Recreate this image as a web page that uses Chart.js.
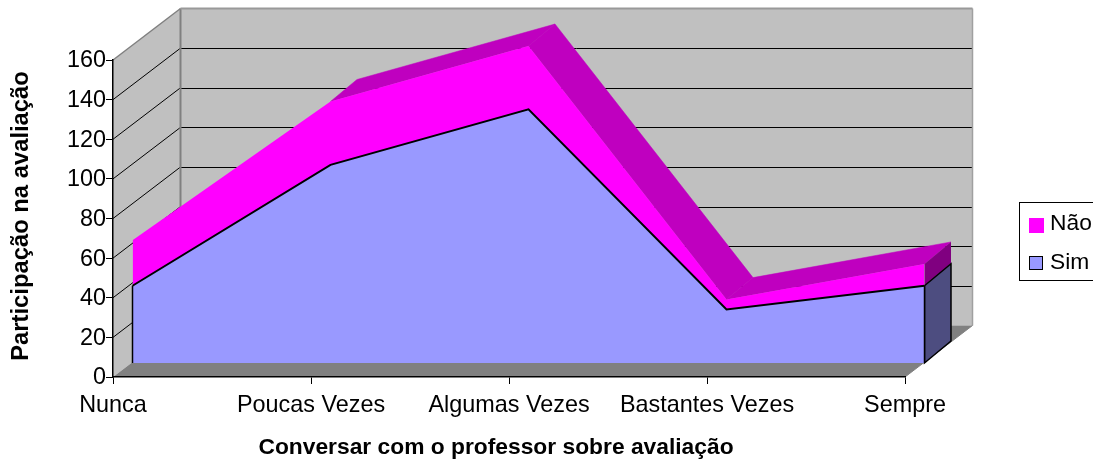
<!DOCTYPE html>
<html lang="pt">
<head>
<meta charset="utf-8">
<title>Conversar com o professor sobre avaliação</title>
<style>html,body{margin:0;padding:0;background:#fff;overflow:hidden}canvas{display:block}</style>
<script src="https://cdn.jsdelivr.net/npm/chart.js@4"></script>
</head>
<body>
<canvas id="c" width="1093" height="459"></canvas>
<script>
const categories = ['Nunca', 'Poucas Vezes', 'Algumas Vezes', 'Bastantes Vezes', 'Sempre'];
const simValues = [39, 100, 128, 27, 39];
const naoValues = [23, 32, 32, 5, 11];
const yTicks = [0, 20, 40, 60, 80, 100, 120, 140, 160];
const xTitle = 'Conversar com o professor sobre avaliação';
const yTitle = 'Participação na avaliação';
const serieSim = 'Sim';
const serieNao = 'Não';

const FONT = '"Liberation Sans", Arial, sans-serif';
const WALL = {dx: 67.5, dy: -51.5};
const FRONT = {dx: 19.5, dy: -14};
const DEPTH = {dx: 26.5, dy: -22};

function poly(ctx, pts, fill, stroke, lw) {
  ctx.beginPath();
  pts.forEach((p, i) => i ? ctx.lineTo(p[0], p[1]) : ctx.moveTo(p[0], p[1]));
  ctx.closePath();
  if (fill) { ctx.fillStyle = fill; ctx.fill(); }
  if (stroke) { ctx.strokeStyle = stroke; ctx.lineWidth = lw || 1; ctx.stroke(); }
}
function seg(ctx, a, b, c, w) {
  ctx.beginPath(); ctx.moveTo(a[0], a[1]); ctx.lineTo(b[0], b[1]);
  ctx.strokeStyle = c; ctx.lineWidth = w; ctx.stroke();
}
function pts(chart, values) {
  const {x, y} = chart.scales;
  return values.map((v, i) => [x.getPixelForValue(i) + FRONT.dx, y.getPixelForValue(v) + FRONT.dy]);
}
const cum = simValues.map((v, i) => v + naoValues[i]);

const scene = {
  id: 'scene',
  beforeDraw(chart) {
    const {ctx, chartArea: a, scales: {y}} = chart;
    const dx = WALL.dx, dy = WALL.dy;
    ctx.save();
    // walls and floor
    poly(ctx, [[a.left, a.top], [a.left + dx, a.top + dy], [a.left + dx, a.bottom + dy], [a.left, a.bottom]], '#C0C0C0');
    poly(ctx, [[a.left + dx, a.top + dy], [a.right + dx, a.top + dy], [a.right + dx, a.bottom + dy], [a.left + dx, a.bottom + dy]], '#C0C0C0');
    poly(ctx, [[a.left, a.bottom], [a.right, a.bottom], [a.right + dx, a.bottom + dy], [a.left + dx, a.bottom + dy]], '#808080');
    // gridlines
    yTicks.forEach(t => {
      if (t === 0 || t === 160) return;
      const py = y.getPixelForValue(t);
      seg(ctx, [a.left, py], [a.left + dx, py + dy], '#000', 1);
      seg(ctx, [a.left + dx, Math.round(py + dy) + .5], [a.right + dx, Math.round(py + dy) + .5], '#000', 1);
    });
    // wall edges
    seg(ctx, [a.left, a.top], [a.left + dx, a.top + dy], '#808080', 1.5);
    seg(ctx, [a.left + dx, a.top + dy], [a.left + dx, a.bottom + dy], '#808080', 2);
    seg(ctx, [a.left + dx, a.top + dy], [a.right + dx, a.top + dy], '#999', 2);
    seg(ctx, [a.right + dx, a.top + dy], [a.right + dx, a.bottom + dy], '#A0A0A0', 1.5);
    seg(ctx, [a.right, a.bottom], [a.right + dx, a.bottom + dy], '#808080', 1);
    ctx.restore();
  },
  beforeDatasetsDraw(chart) {
    const {ctx, scales: {y}} = chart;
    ctx.save();
    const top = pts(chart, cum), mid = pts(chart, simValues);
    const back = p => [p[0] + DEPTH.dx, p[1] + DEPTH.dy];
    // top extrusion of the upper series (the first face is edge-on in this view)
    for (let i = 1; i < top.length - 1; i++) {
      poly(ctx, [top[i], top[i + 1], back(top[i + 1]), back(top[i])], '#BF00BF', '#BF00BF', .5);
    }
    // right side faces
    const n = top.length - 1;
    const base = [mid[n][0], y.getPixelForValue(0) + FRONT.dy];
    poly(ctx, [top[n], back(top[n]), back(mid[n]), mid[n]], '#800080');
    poly(ctx, [mid[n], back(mid[n]), back(base), base], '#4D4D80', '#000', 1.5);
    ctx.restore();
    // shift the area series to their place inside the 3D box
    ctx.save();
    ctx.translate(FRONT.dx, FRONT.dy);
  },
  afterDatasetsDraw(chart) {
    const {ctx, scales: {y}} = chart;
    ctx.restore();
    ctx.save();
    const mid = pts(chart, simValues);
    const base = y.getPixelForValue(0) + FRONT.dy;
    const n = mid.length - 1;
    seg(ctx, mid[0], [mid[0][0], base], '#000', 1.5);
    seg(ctx, mid[n], [mid[n][0], base], '#000', 1.5);
    ctx.restore();
  },
  afterDraw(chart) {
    const {ctx} = chart;
    ctx.save();
    ctx.fillStyle = '#000';
    ctx.textBaseline = 'alphabetic';
    // axis titles
    ctx.font = 'bold 22.8px ' + FONT;
    ctx.textAlign = 'center';
    ctx.fillText(xTitle, 496, 454);
    ctx.save();
    ctx.font = 'bold 23.8px ' + FONT;
    ctx.translate(28, 216);
    ctx.rotate(-Math.PI / 2);
    ctx.fillText(yTitle, 0, 0);
    ctx.restore();
    // legend
    ctx.strokeStyle = '#000'; ctx.lineWidth = 1;
    ctx.strokeRect(1019.5, 202.5, 90, 78);
    ctx.fillStyle = '#FF00FF';
    ctx.fillRect(1029, 218, 15, 15);
    ctx.fillStyle = '#9999FF';
    ctx.fillRect(1029, 256, 14, 14);
    ctx.strokeRect(1029.5, 256.5, 13, 13);
    ctx.fillStyle = '#000';
    ctx.font = '22.8px ' + FONT;
    ctx.textAlign = 'left';
    ctx.fillText(serieNao, 1050, 230);
    ctx.fillText(serieSim, 1050, 269);
    ctx.restore();
  }
};

new Chart(document.getElementById('c'), {
  type: 'line',
  data: {
    labels: categories,
    datasets: [
      {label: serieSim, data: simValues, backgroundColor: '#9999FF', borderColor: '#000', borderWidth: 2, fill: 'origin', pointRadius: 0, tension: 0, clip: false, stack: 'a'},
      {label: serieNao, data: naoValues, backgroundColor: '#FF00FF', borderColor: '#FF00FF', borderWidth: 0, fill: '-1', pointRadius: 0, tension: 0, clip: false, stack: 'a'}
    ]
  },
  options: {
    responsive: false,
    animation: false,
    devicePixelRatio: 1,
    layout: {padding: {top: 60, right: 188, left: 0, bottom: 0}},
    plugins: {legend: {display: false}, tooltip: {enabled: false}, title: {display: false}},
    scales: {
      x: {
        type: 'category',
        offset: false,
        afterFit(s) { s.height = 82; },
        border: {color: '#000', width: 1.5},
        grid: {drawOnChartArea: false, drawTicks: true, tickLength: 7, color: '#000'},
        ticks: {autoSkip: false, maxRotation: 0, color: '#000', padding: 8, font: {family: FONT, size: 23.4}}
      },
      y: {
        stacked: true,
        min: 0, max: 160,
        afterFit(s) { s.width = 113; },
        afterBuildTicks(s) { s.ticks = yTicks.map(v => ({value: v})); },
        border: {color: '#000', width: 1.5},
        grid: {drawOnChartArea: false, drawTicks: true, tickLength: 7, color: '#000'},
        ticks: {color: '#000', padding: 0, labelOffset: 1, font: {family: FONT, size: 23.4}}
      }
    }
  },
  plugins: [scene]
});
</script>
</body>
</html>
